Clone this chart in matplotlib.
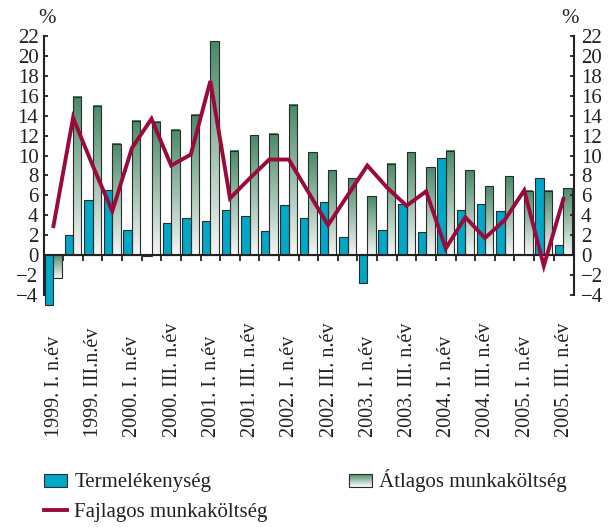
import matplotlib
matplotlib.use("Agg")
import matplotlib.pyplot as plt
import matplotlib.transforms as mtransforms
from matplotlib.colors import LinearSegmentedColormap
from matplotlib.patches import Patch, Rectangle
from matplotlib.lines import Line2D
from matplotlib.legend_handler import HandlerBase
import numpy as np

plt.rcParams["font.family"] = ["Liberation Serif", "DejaVu Serif"]

# quarterly change, %  (1999 Q1 .. 2005 Q3)
quarter_labels = [
    "1999. I. n.év", "1999. III.n.év", "2000. I. n.év", "2000. III. n.év",
    "2001. I. n.év", "2001. III. n.év", "2002. I. n.év", "2002. III. n.év",
    "2003. I. n.év", "2003. III. n.év", "2004. I. n.év", "2004. III. n.év",
    "2005. I. n.év", "2005. III. n.év",
]
termelekenyseg = [
    -5.05, 2.0, 5.55, 6.5, 2.5, -0.15, 3.25, 3.7, 3.45, 4.55, 3.95, 2.45,
    5.0, 3.7, 5.3, 1.8, -2.85, 2.5, 5.1, 2.35, 9.8, 4.5, 5.1, 4.4, 0.05,
    7.7, 1.0,
]
atlagos = [
    -2.35, 15.9, 15.0, 11.2, 13.5, 13.4, 12.6, 14.1, 21.5, 10.5, 12.05,
    12.2, 15.1, 10.35, 8.5, 7.7, 5.9, 9.2, 10.35, 8.85, 10.5, 8.5, 6.9,
    7.9, 6.45, 6.45, 6.7,
]
fajlagos = [
    2.9, 13.8, 9.0, 4.4, 10.75, 13.7, 9.0, 10.1, 17.5, 5.7, 7.7, 9.6, 9.6,
    6.3, 3.0, 6.0, 9.0, 6.8, 4.95, 6.4, 0.65, 3.8, 1.7, 3.5, 6.5, -1.1,
    5.65,
]

blue = "#00a7c7"
edge = "#2b2b2b"
red = "#9a0a3c"
ink = "#222222"
green_cmap = LinearSegmentedColormap.from_list("zold", ["#f4f6f5", "#4a8a68"])


class GradientHandler(HandlerBase):
    # legend box with the same top-to-bottom gradient as the bars
    def create_artists(self, legend, orig_handle, xdescent, ydescent,
                       width, height, fontsize, trans):
        arts = []
        n = 12
        for k in range(n):
            arts.append(Rectangle((-xdescent, -ydescent + height * k / n),
                                  width, height / n,
                                  facecolor=green_cmap((k + 0.5) / n),
                                  edgecolor="none", transform=trans))
        arts.append(Rectangle((-xdescent, -ydescent), width, height,
                              facecolor="none", edgecolor=edge, lw=0.8,
                              transform=trans))
        return arts


fig = plt.figure(figsize=(6.14, 5.27), dpi=100)
ax = fig.add_axes([0.0717, 0.4408, 0.8632, 0.4903])

x = np.arange(len(termelekenyseg))
w = 0.43

ax.bar(x - w / 2, termelekenyseg, w, color=blue, edgecolor=edge,
       linewidth=0.8, zorder=3, clip_on=False)

grad = np.linspace(0, 1, 200).reshape(-1, 1)
for xi, h in zip(x, atlagos):
    ax.imshow(grad, cmap=green_cmap, origin="lower", aspect="auto",
              extent=[xi, xi + w, min(0, h), max(0, h)], zorder=2.8,
              interpolation="bilinear")
ax.bar(x + w / 2, atlagos, w, facecolor="none", edgecolor=edge,
       linewidth=0.8, zorder=3)

ax.plot(x, fajlagos, color=red, lw=2.8, zorder=4, solid_joinstyle="miter")

ax.set_xlim(-0.48, 26.54)
ax.set_ylim(-4, 22)
ax.set_yticks(np.arange(-4, 23, 2))
ax.tick_params(axis="y", direction="in", length=3, width=1.3, labelsize=15,
               pad=4, colors=ink)

# category axis sits on the zero line
ax.spines["bottom"].set_position(("data", 0))
ax.spines["bottom"].set_zorder(3.5)
ax.set_xticks(x[:-1] + 0.5)
ax.set_xticklabels([])
ax.tick_params(axis="x", direction="out", length=4, width=1.3, colors=ink)
for s in ["top", "right"]:
    ax.spines[s].set_visible(False)
for s in ["left", "bottom"]:
    ax.spines[s].set_linewidth(1.5)
    ax.spines[s].set_color(ink)

ax2 = ax.twinx()
ax2.set_ylim(-4, 22)
ax2.set_yticks(np.arange(-4, 23, 2))
ax2.tick_params(axis="y", direction="in", length=3, width=1.3, labelsize=15,
                pad=5, colors=ink)
for s in ["top", "left", "bottom"]:
    ax2.spines[s].set_visible(False)
ax2.spines["right"].set_linewidth(1.5)
ax2.spines["right"].set_color(ink)

ax.text(0.005, 1.069, "%", transform=ax.transAxes, ha="center",
        va="center", fontsize=15, color=ink)
ax.text(0.992, 1.069, "%", transform=ax.transAxes, ha="center",
        va="center", fontsize=15, color=ink)

trans = mtransforms.blended_transform_factory(ax.transData, ax.transAxes)
for i, lab in zip(x[::2], quarter_labels):
    ax.text(i + 0.05, -0.551, lab, transform=trans, rotation=90,
            ha="center", va="bottom", fontsize=14.5, color=ink)

handles = [
    Patch(facecolor=blue, edgecolor=edge, linewidth=0.8),
    Line2D([], [], color=red, lw=2.8),
    Patch(),
]
labels = ["Termelékenység", "Fajlagos munkaköltség", "Átlagos munkaköltség"]
leg = fig.legend(handles, labels, ncol=2, loc="upper left",
                 bbox_to_anchor=(0.055, 0.129), frameon=False, fontsize=15,
                 handlelength=1.1, handleheight=0.58, handletextpad=0.34,
                 columnspacing=3.9, labelspacing=0.5, borderpad=0,
                 handler_map={handles[2]: GradientHandler()})
for t in leg.get_texts():
    t.set_color(ink)

fig.savefig("out.png", dpi=100)
